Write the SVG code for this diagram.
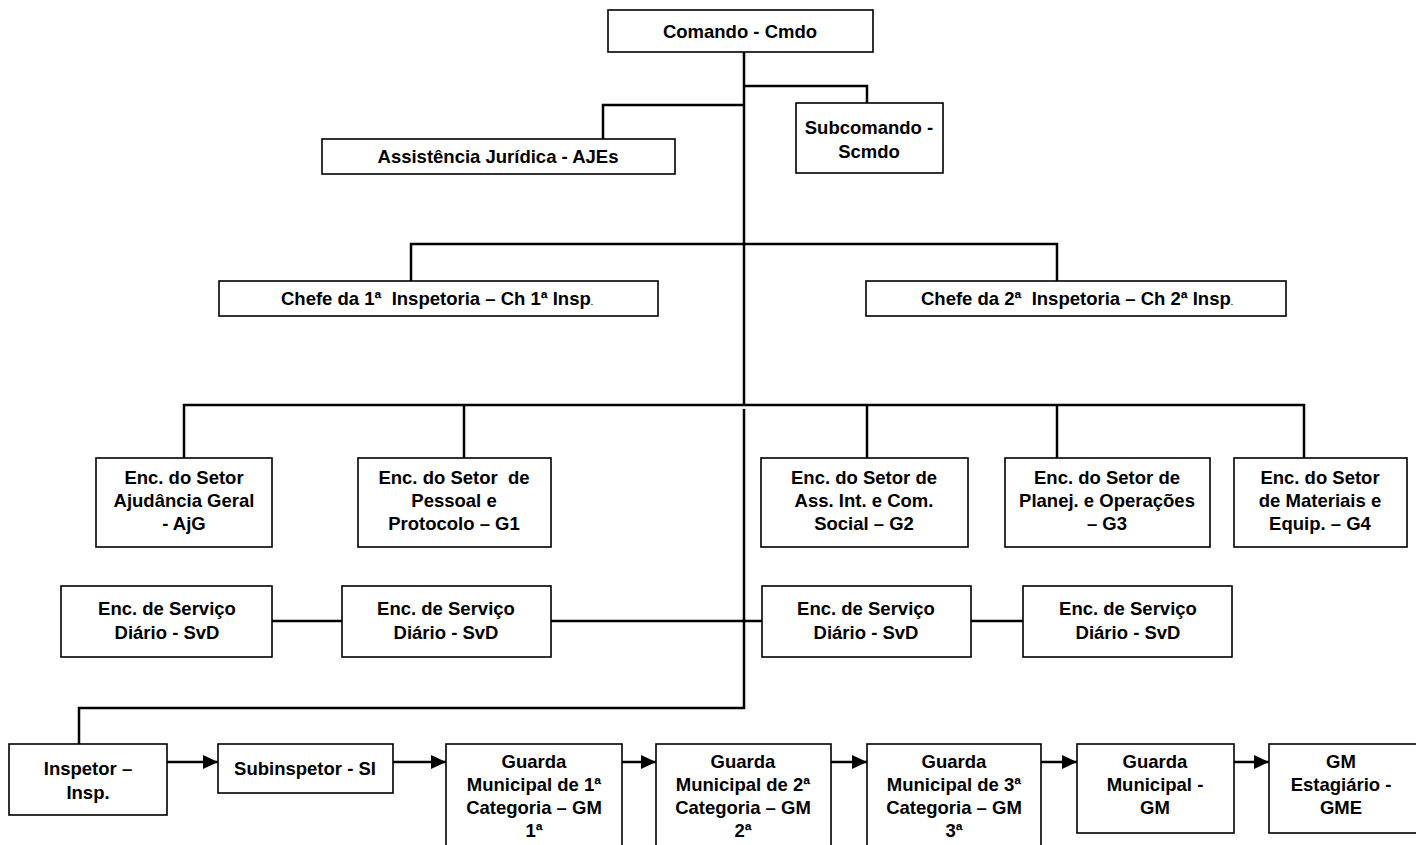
<svg xmlns="http://www.w3.org/2000/svg" width="1416" height="845" viewBox="0 0 1416 845">
<style>
.box{fill:#fff;stroke:#000;stroke-width:1.6}
.t{font-family:"Liberation Sans",Arial,sans-serif;font-weight:bold;font-size:18.5px;text-anchor:middle;fill:#000;white-space:pre}
.c{fill:none;stroke:#000;stroke-width:2.5}
</style>
<defs>
<marker id="ah" markerWidth="16" markerHeight="14" refX="15" refY="7" orient="auto" markerUnits="userSpaceOnUse">
<path d="M0,0 L15,7 L0,14 Z" fill="#000"/>
</marker>
</defs>
<rect width="1416" height="845" fill="#fff"/>
<g id="connectors">
<path class="c" d="M744,52 V405"/>
<path class="c" d="M744,86 H867 V103"/>
<path class="c" d="M744,105 H603 V139"/>
<path class="c" d="M411,281 V244 H1057 V281"/>
<path class="c" d="M184,458 V405 H1304 V458"/>
<path class="c" d="M464,405 V458"/>
<path class="c" d="M867,405 V458"/>
<path class="c" d="M1057,405 V458"/>
<path class="c" d="M744,409 V708 H79 V744"/>
<path class="c" d="M272,621 H342"/>
<path class="c" d="M551,621 H762"/>
<path class="c" d="M971,621 H1023"/>
<path class="c" d="M167,762 H218" marker-end="url(#ah)"/>
<path class="c" d="M393,762 H446" marker-end="url(#ah)"/>
<path class="c" d="M622,762 H656" marker-end="url(#ah)"/>
<path class="c" d="M831,762 H867" marker-end="url(#ah)"/>
<path class="c" d="M1041,762 H1077" marker-end="url(#ah)"/>
<path class="c" d="M1234,762 H1269" marker-end="url(#ah)"/>
</g>
<g id="cmdo"><rect class="box" x="608" y="10" width="265" height="42"/><text class="t" x="740" y="38">Comando - Cmdo</text></g>
<g id="ajes"><rect class="box" x="322" y="139" width="353" height="35"/><text class="t" x="498" y="163">Assistência Jurídica - AJEs</text></g>
<g id="scmdo"><rect class="box" x="796" y="103" width="147" height="70"/><text class="t" x="869" y="134">Subcomando -</text><text class="t" x="869" y="158">Scmdo</text></g>
<g id="ch1"><rect class="box" x="219" y="281" width="439" height="35"/><text class="t" x="437" y="305">Chefe da 1ª  Inspetoria – Ch 1ª Insp<tspan font-size="8">.</tspan></text></g>
<g id="ch2"><rect class="box" x="866" y="281" width="420" height="35"/><text class="t" x="1077" y="305">Chefe da 2ª  Inspetoria – Ch 2ª Insp<tspan font-size="8">.</tspan></text></g>
<g id="ajg"><rect class="box" x="96" y="458" width="176" height="89"/><text class="t" x="184" y="484">Enc. do Setor</text><text class="t" x="184" y="507">Ajudância Geral</text><text class="t" x="184" y="530">- AjG</text></g>
<g id="g1"><rect class="box" x="358" y="458" width="193" height="89"/><text class="t" x="454" y="484">Enc. do Setor  de</text><text class="t" x="454" y="507">Pessoal e</text><text class="t" x="454" y="530">Protocolo – G1</text></g>
<g id="g2"><rect class="box" x="761" y="458" width="207" height="89"/><text class="t" x="864" y="484">Enc. do Setor de</text><text class="t" x="864" y="507">Ass. Int. e Com.</text><text class="t" x="864" y="530">Social – G2</text></g>
<g id="g3"><rect class="box" x="1005" y="458" width="205" height="89"/><text class="t" x="1107" y="484">Enc. do Setor de</text><text class="t" x="1107" y="507">Planej. e Operações</text><text class="t" x="1107" y="530">– G3</text></g>
<g id="g4"><rect class="box" x="1234" y="458" width="173" height="89"/><text class="t" x="1320" y="484">Enc. do Setor</text><text class="t" x="1320" y="507">de Materiais e</text><text class="t" x="1320" y="530">Equip. – G4</text></g>
<g id="svd1"><rect class="box" x="61" y="586" width="211" height="71"/><text class="t" x="167" y="615">Enc. de Serviço</text><text class="t" x="167" y="639">Diário - SvD</text></g>
<g id="svd2"><rect class="box" x="342" y="586" width="209" height="71"/><text class="t" x="446" y="615">Enc. de Serviço</text><text class="t" x="446" y="639">Diário - SvD</text></g>
<g id="svd3"><rect class="box" x="762" y="586" width="209" height="71"/><text class="t" x="866" y="615">Enc. de Serviço</text><text class="t" x="866" y="639">Diário - SvD</text></g>
<g id="svd4"><rect class="box" x="1023" y="586" width="209" height="71"/><text class="t" x="1128" y="615">Enc. de Serviço</text><text class="t" x="1128" y="639">Diário - SvD</text></g>
<g id="insp"><rect class="box" x="9" y="744" width="158" height="71"/><text class="t" x="88" y="775">Inspetor –</text><text class="t" x="88" y="799">Insp.</text></g>
<g id="si"><rect class="box" x="218" y="744" width="175" height="49"/><text class="t" x="305" y="775">Subinspetor - SI</text></g>
<g id="gm1"><rect class="box" x="446" y="744" width="176" height="110"/><text class="t" x="534" y="768">Guarda</text><text class="t" x="534" y="791">Municipal de 1ª</text><text class="t" x="534" y="814">Categoria – GM</text><text class="t" x="534" y="837">1ª</text></g>
<g id="gm2"><rect class="box" x="656" y="744" width="175" height="110"/><text class="t" x="743" y="768">Guarda</text><text class="t" x="743" y="791">Municipal de 2ª</text><text class="t" x="743" y="814">Categoria – GM</text><text class="t" x="743" y="837">2ª</text></g>
<g id="gm3"><rect class="box" x="867" y="744" width="174" height="110"/><text class="t" x="954" y="768">Guarda</text><text class="t" x="954" y="791">Municipal de 3ª</text><text class="t" x="954" y="814">Categoria – GM</text><text class="t" x="954" y="837">3ª</text></g>
<g id="gm"><rect class="box" x="1077" y="744" width="157" height="89"/><text class="t" x="1155" y="768">Guarda</text><text class="t" x="1155" y="791">Municipal -</text><text class="t" x="1155" y="814">GM</text></g>
<g id="gme"><rect class="box" x="1269" y="744" width="150" height="89"/><text class="t" x="1341" y="768">GM</text><text class="t" x="1341" y="791">Estagiário -</text><text class="t" x="1341" y="814">GME</text></g>
</svg>
